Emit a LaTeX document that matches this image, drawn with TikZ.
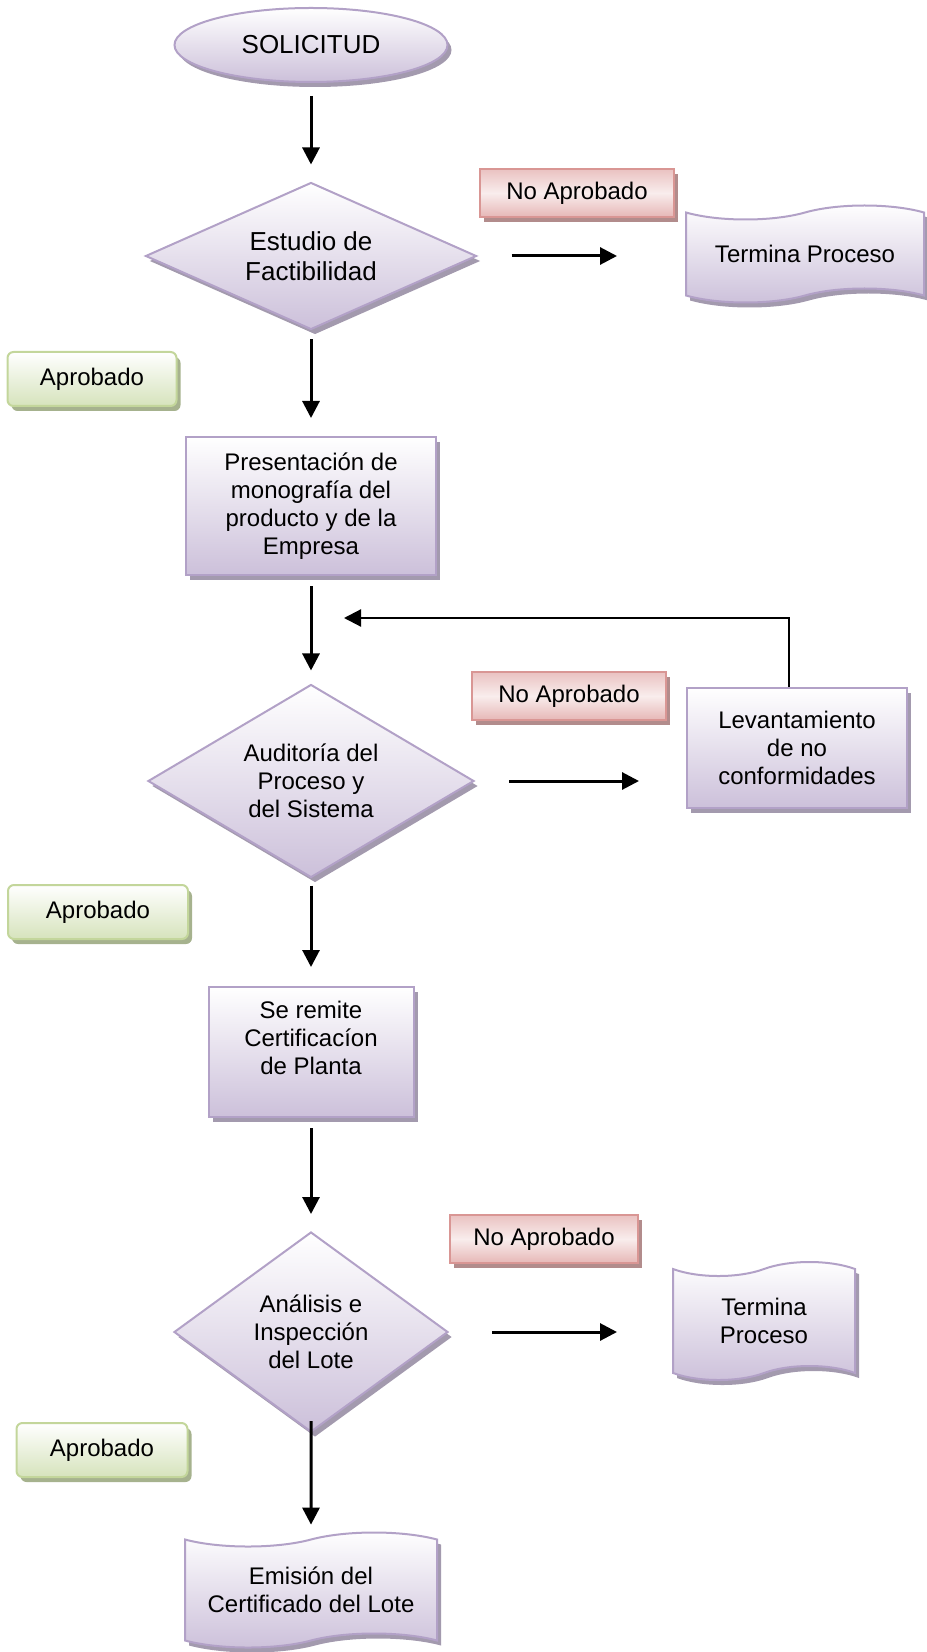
\documentclass[tikz,border=0pt]{standalone}
\usepackage{fontspec}
\setmainfont{Liberation Sans}
\usepackage{tikz}
\usetikzlibrary{
  shapes.geometric,
  shapes.symbols,
  arrows.meta,
  shadows,
  calc
}
\definecolor{lilaborde}{RGB}{178,161,199}
\definecolor{lilafondo}{RGB}{204,192,218}
\definecolor{lilasombra}{RGB}{163,154,174}
\definecolor{rojoborde}{RGB}{217,150,148}
\definecolor{rojofondo}{RGB}{230,183,182}
\definecolor{rojosombra}{RGB}{178,140,140}
\definecolor{verdeborde}{RGB}{195,214,155}
\definecolor{verdefondo}{RGB}{214,227,188}
\definecolor{verdesombra}{RGB}{166,178,142}

\begin{document}
\begin{tikzpicture}[
  x=0.5pt, y=-0.5pt,
  txt/.style={font=\fontsize{12}{14}\selectfont, align=center, inner sep=1pt},
  base/.style={txt, draw=lilaborde, line width=1pt, top color=white, bottom color=lilafondo,
    drop shadow={shadow xshift=2pt, shadow yshift=-2.5pt, fill=lilasombra, opacity=1}},
  proc/.style={base, rectangle},
  dec/.style={base, diamond},
  inicio/.style={base, ellipse},
  cinta/.style={base, tape, tape bend top=in and out, tape bend bottom=in and out, tape bend height=7pt},
  noap/.style={txt, rectangle, draw=rojoborde, line width=1pt, top color=rojofondo!85,
    bottom color=rojofondo, middle color=rojofondo!25, minimum width=97pt, minimum height=24pt,
    drop shadow={shadow xshift=2pt, shadow yshift=-2.5pt, fill=rojosombra, opacity=1}},
  apr/.style={txt, rectangle, rounded corners=3pt, draw=verdeborde, line width=1pt, top color=white,
    bottom color=verdefondo, minimum height=27pt,
    drop shadow={shadow xshift=2pt, shadow yshift=-2.5pt, fill=verdesombra, opacity=1}},
  arr/.style={-{Triangle[length=8.5pt,width=8.5pt]}, line width=1.5pt}
]
  \useasboundingbox (0,0) rectangle (926,1652);

  % --- main column ---
  \node[inicio, minimum width=136.5pt, minimum height=37pt, font=\fontsize{13}{15}\selectfont] (sol) at (311,45) {SOLICITUD};
  \node[dec, aspect=2.25, minimum width=165.5pt, minimum height=73.5pt, font=\fontsize{13}{15}\selectfont] (dia1) at (311,256) {Estudio de\\Factibilidad};
  \node[proc, minimum width=125pt, minimum height=69pt] (pres) at (311,506) {Presentación de\\monografía del\\producto y de la\\Empresa};
  \node[dec, aspect=1.7, minimum width=163pt, minimum height=96.5pt] (dia2) at (311,781) {Auditoría del\\Proceso y\\del Sistema};
  \node[proc, minimum width=102.5pt, minimum height=65pt, text depth=14pt] (rem) at (311,1052) {Se remite\\Certificacíon\\de Planta};
  \node[dec, aspect=1.4, minimum width=137pt, minimum height=100pt] (dia3) at (311,1332) {Análisis e\\Inspección\\del Lote};
  \node[cinta, minimum width=126pt, minimum height=57.5pt] (emi) at (311,1590) {Emisión del\\Certificado del Lote};

  % --- right side ---
  \node[cinta, minimum width=119pt, minimum height=48.5pt] (fin1) at (805,254) {Termina Proceso};
  \node[proc, minimum width=110pt, minimum height=60pt] (lev) at (797,748) {Levantamiento\\de no\\conformidades};
  \node[cinta, minimum width=91pt, minimum height=59pt] (fin2) at (764,1321) {Termina\\Proceso};

  % labels
  \node[noap] (na1) at (577,193) {No Aprobado};
  \node[noap] (na2) at (569,696) {No Aprobado};
  \node[noap, minimum width=94pt] (na3) at (544,1239) {No Aprobado};
  \node[apr, minimum width=84.5pt] (ap1) at (92,379) {Aprobado};
  \node[apr, minimum width=90pt] (ap2) at (98,912) {Aprobado};
  \node[apr, minimum width=85.5pt] (ap3) at (102,1450) {Aprobado};

  % arrows down
  \draw[arr, shorten <=6.5pt, shorten >=8.5pt] (sol) -- (dia1);
  \draw[arr, shorten <=4.5pt, shorten >=9pt] (dia1) -- (pres);
  \draw[arr, shorten <=5pt, shorten >=6.5pt] (pres) -- (dia2);
  \draw[arr, shorten <=3.5pt, shorten >=9.5pt] (dia2) -- (rem);
  \draw[arr, shorten <=5pt, shorten >=8.5pt] (rem) -- (dia3);
  \draw[arr, shorten >=7pt] ([yshift=6pt]dia3.south) -- (emi);

  % arrows right
  \draw[arr, shorten <=17pt, shorten >=34pt] (dia1.east) -- (dia1.east -| fin1.west);
  \draw[arr, shorten <=17pt, shorten >=23.5pt] (dia2.east) -- (dia2.east -| lev.west);
  \draw[arr, shorten <=21.5pt, shorten >=27.5pt] (dia3.east) -- (dia3.east -| fin2.west);

  % back to the audit
  \coordinate (ret) at (344,618);
  \draw[arr, line width=1.1pt] ([xshift=-4pt]lev.north) |- (ret);
\end{tikzpicture}
\end{document}
